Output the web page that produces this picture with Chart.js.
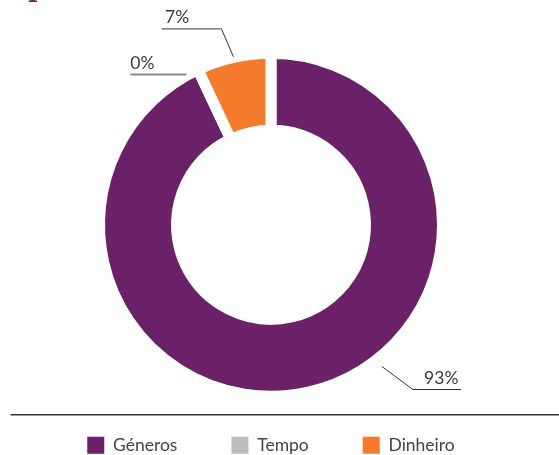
<!DOCTYPE html>
<html>
<head>
<meta charset="utf-8">
<script src="https://cdn.jsdelivr.net/npm/chart.js@4/dist/chart.umd.min.js"></script>
<style>
  html, body { margin: 0; padding: 0; background: #fff; }
  #wrap { position: relative; width: 559px; height: 455px; overflow: hidden; }
  #titleTail { position: absolute; left: 28px; top: -25px; font: bold 26px 'DejaVu Serif'; line-height: 26px; color: #6a2167; }
</style>
</head>
<body>
<div id="wrap">
  <span id="titleTail">p</span>
  <canvas id="donut"></canvas>
</div>
<script>
// dados do gráfico
const categories = ['Géneros', 'Tempo', 'Dinheiro'];
const values = [93, 0, 7];
const colors = ['#6a2167', '#bdbdc0', '#f47a2c'];

// linhas de chamada: posição ao longo do arco (0..1), distância ao raio, cotovelo, traço horizontal
const leaderAt = [0.424, 0.5, 0.5];
const leaderGap = [14, 0, 6];
const leaderElbow = [[31, 23], [-14, 0], [-12, -28]];
const leaderRun = [48, -56, -60];

const ringOuter = 166; // raio visível
const ringInner = 100;
const gap = 11;        // espaço branco entre fatias
const fontFamily = 'Lato';
const fontSize = 17.5;

const leaderPlugin = {
    id: 'leaders',
    afterDraw(chart) {
        const ctx = chart.ctx;
        const arcs = chart.getDatasetMeta(0).data;
        ctx.save();
        ctx.font = fontSize + 'px ' + fontFamily;
        ctx.fillStyle = '#3a3a3a';
        ctx.textBaseline = 'alphabetic';
        arcs.forEach((arc, i) => {
            const a = arc.startAngle + (arc.endAngle - arc.startAngle) * leaderAt[i];
            const r = ringOuter + leaderGap[i];
            const p = { x: arc.x + Math.cos(a) * r, y: arc.y + Math.sin(a) * r };
            const e = { x: p.x + leaderElbow[i][0], y: p.y + leaderElbow[i][1] };
            const h = { x: e.x + leaderRun[i], y: e.y };
            const zero = values[i] === 0;
            ctx.beginPath();
            if (zero) {
                ctx.moveTo(e.x, e.y);
            } else {
                ctx.moveTo(p.x, p.y);
                ctx.lineTo(e.x, e.y);
            }
            ctx.lineTo(h.x, h.y);
            ctx.strokeStyle = zero ? '#8a8a8a' : '#333';
            ctx.lineWidth = zero ? 2 : 1;
            ctx.stroke();
            const txt = values[i] + '%';
            if (leaderRun[i] > 0) {
                ctx.textAlign = 'right';
                ctx.fillText(txt, h.x - 2.5, h.y - 6);
            } else {
                ctx.textAlign = 'left';
                ctx.fillText(txt, h.x + (zero ? 0 : 3.5), h.y - 6);
            }
        });
        // linha separadora acima da legenda
        ctx.beginPath();
        ctx.moveTo(10.5, 414.75);
        ctx.lineTo(chart.width, 414.75);
        ctx.strokeStyle = '#333';
        ctx.lineWidth = 1.5;
        ctx.stroke();
        ctx.restore();
    }
};

const baseLabels = Chart.overrides.doughnut.plugins.legend.labels.generateLabels;

new Chart(document.getElementById('donut'), {
    type: 'doughnut',
    data: {
        labels: categories,
        datasets: [{
            data: values,
            backgroundColor: colors,
            borderColor: '#ffffff',
            borderWidth: gap,
            hoverOffset: 0
        }]
    },
    options: {
        responsive: true,
        maintainAspectRatio: false,
        animation: false,
        events: [],
        radius: ringOuter + gap / 2,
        cutout: ((ringInner - gap / 2) / (ringOuter + gap / 2) * 100) + '%',
        layout: { padding: { top: 67, left: 0, right: 17, bottom: -9 } },
        plugins: {
            tooltip: { enabled: false },
            legend: {
                position: 'bottom',
                labels: {
                    boxWidth: 17,
                    boxHeight: 17,
                    padding: 54,
                    color: '#444',
                    font: { family: fontFamily, size: fontSize },
                    generateLabels(chart) {
                        return baseLabels(chart).map(item => ({ ...item, lineWidth: 0 }));
                    }
                }
            }
        }
    },
    plugins: [leaderPlugin]
});
</script>
</body>
</html>
